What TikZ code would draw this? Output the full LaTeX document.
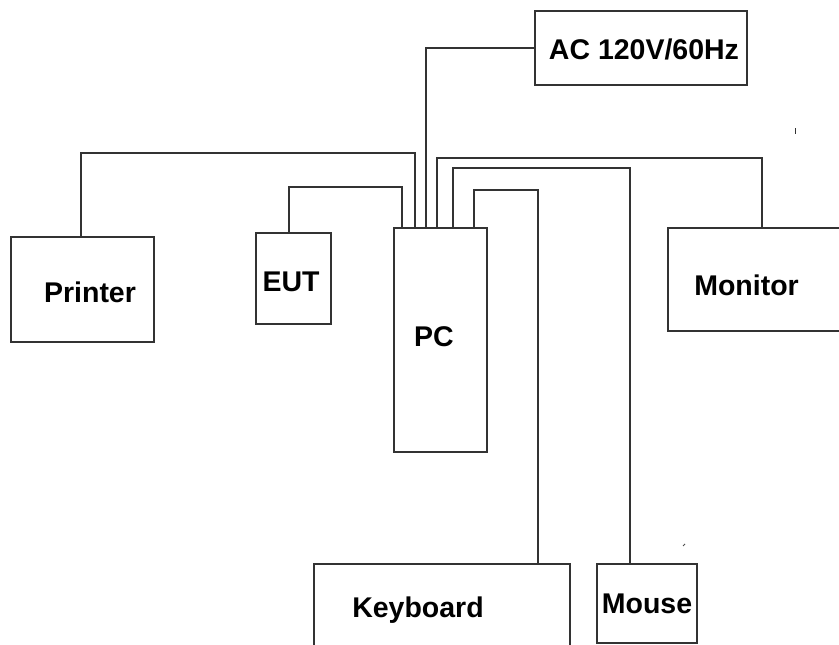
\documentclass[tikz,border=0pt]{standalone}
\usepackage{fontspec}
\setmainfont{Liberation Sans}
\begin{document}
\begin{tikzpicture}[x=1pt,y=-1pt,
  box/.style={draw=black!80,line width=1.6pt,rectangle,inner sep=0pt,anchor=north west},
  wire/.style={draw=black!80,line width=1.5pt},
  lbl/.style={font=\fontsize{28.5}{30}\selectfont\bfseries,anchor=base,inner sep=0pt}]
\useasboundingbox (0,0) rectangle (839,645);
\clip (0,0) rectangle (839,645);
% boxes
\node[box,minimum width=212pt,minimum height=74pt] (ac) at (534,10) {};
\node[box,minimum width=143pt,minimum height=105pt] (printer) at (10,236) {};
\node[box,minimum width=75pt,minimum height=91pt] (eut) at (255,232) {};
\node[box,minimum width=93pt,minimum height=224pt] (pc) at (393,227) {};
\node[box,minimum width=200pt,minimum height=103pt] (monitor) at (667,227) {};
\node[box,minimum width=256pt,minimum height=100pt] (keyboard) at (313,563) {};
\node[box,minimum width=100pt,minimum height=79pt] (mouse) at (596,563) {};
% labels
\node[lbl] (tac) at (644,59) {AC 120V/60Hz};
\node[lbl] (tprinter) at (90,302) {Printer};
\node[lbl] (teut) at (291,291) {EUT};
\node[lbl] (tpc) at (434,346) {PC};
\node[lbl] (tmonitor) at (746.5,295) {Monitor};
\node[lbl] (tkeyboard) at (418,617) {Keyboard};
\node[lbl] (tmouse) at (647,613) {Mouse};
% wires
\draw[wire] (ac.west) -| (426,0 |- pc.north);
\draw[wire] (81,0 |- printer.north) |- (415,153) -- (415,0 |- pc.north);
\draw[wire] (289,0 |- eut.north) |- (402,187) -- (402,0 |- pc.north);
\draw[wire] (437,0 |- pc.north) |- (762,158) -- (762,229);
\draw[wire] (453,0 |- pc.north) |- (630,168) -- (630,0 |- mouse.north);
\draw[wire] (474,0 |- pc.north) |- (538,190) -- (538,0 |- keyboard.north);
% stray marks
\draw[black!80,line width=1pt] (795,128) -- (795,134);
\draw[black!70,line width=0.8pt] (683,546) -- (685,544);
\end{tikzpicture}
\end{document}
